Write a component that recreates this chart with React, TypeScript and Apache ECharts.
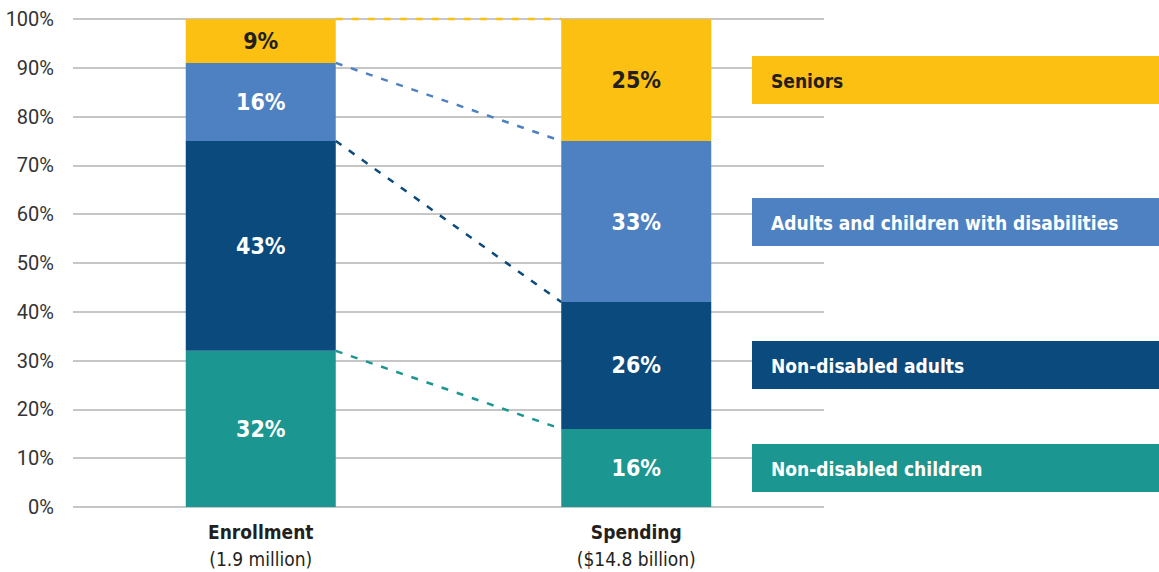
import React, { useEffect, useRef } from "react";
import * as echarts from "echarts";

const categories = ["Enrollment", "Spending"];
const subLabels = ["(1.9 million)", "($14.8 billion)"];
const seriesNames = [
  "Non-disabled children",
  "Non-disabled adults",
  "Adults and children with disabilities",
  "Seniors",
];
const children = [32, 16];
const adults = [43, 26];
const disabled = [16, 33];
const seniors = [9, 25];
const colors = ["#1C9690", "#0B4A7D", "#4E81C1", "#FBC012"];
const yTicks = [0, 10, 20, 30, 40, 50, 60, 70, 80, 90, 100];

const FONT = "'DejaVu Sans Condensed', 'Liberation Sans Narrow', 'Roboto', sans-serif";
const AXIS_FONT = "'Roboto', 'Liberation Sans', sans-serif";

export default function App() {
  const ref = useRef<HTMLDivElement>(null);
  useEffect(() => {
    if (!ref.current) return;
    const chart = echarts.init(ref.current, undefined, { renderer: "svg" });
    const values = [children, adults, disabled, seniors];
    const tops = values.map((_, i) =>
      [0, 1].map((c) => values.slice(0, i + 1).reduce((s, arr) => s + arr[c], 0))
    );
    const connectors = tops.map((t, i) => [t[0], t[1], i]);

    const barSeries = values.map((arr, i) => ({
      name: seriesNames[i],
      type: "bar",
      stack: "total",
      barWidth: 150,
      data: arr,
      itemStyle: { color: colors[i] },
      label: {
        show: true,
        position: "inside",
        formatter: "{c}%",
        fontFamily: FONT,
        fontWeight: "bold",
        fontSize: 23,
        color: i === 3 ? "#231F20" : "#FFFFFF",
      },
      z: 2,
    }));

    // legend boxes centred on the middle of each Spending segment
    const legendOrder = [3, 2, 1, 0];
    const spendMid = legendOrder.map((si) => {
      const below = values.slice(0, si).reduce((s, arr) => s + arr[1], 0);
      return below + values[si][1] / 2;
    });

    chart.setOption({
      animation: false,
      grid: { left: 73, right: 335, top: 19, bottom: 65 },
      xAxis: {
        type: "category",
        data: categories,
        axisLine: { show: false },
        axisTick: { show: false },
        axisLabel: {
          margin: 11,
          formatter: (v: string, idx: number) => `{b|${v}}\n{n|${subLabels[idx]}}`,
          rich: {
            b: { fontFamily: FONT, fontWeight: "bold", fontSize: 19, color: "#231F20", lineHeight: 27 },
            n: { fontFamily: FONT, fontSize: 19, color: "#231F20", lineHeight: 27 },
          },
        },
      },
      yAxis: {
        type: "value",
        min: 0,
        max: 100,
        interval: 10,
        axisLine: { show: false },
        axisTick: { show: false },
        axisLabel: {
          formatter: "{value}%",
          fontFamily: AXIS_FONT,
          fontSize: 20,
          color: "#333333",
          margin: 19,
        },
        splitLine: { lineStyle: { color: "#B3B3B3", width: 1.5 } },
      },
      series: [
        ...barSeries,
        {
          type: "custom",
          data: connectors,
          z: 3,
          renderItem: (params: any, api: any) => {
            const p0 = api.coord([0, api.value(0)]);
            const p1 = api.coord([1, api.value(1)]);
            const ci = api.value(2);
            return {
              type: "line",
              shape: { x1: p0[0] + 75, y1: p0[1], x2: p1[0] - 75, y2: p1[1] },
              style: { stroke: colors[ci], lineWidth: 2.5, lineDash: [7, 9] },
            };
          },
        },
      ],
      graphic: legendOrder.map((si, k) => {
        const yMid = 507 - spendMid[k] * 4.88;
        return {
          type: "group",
          x: 752,
          y: Math.round(yMid - 24),
          z: 100,
          children: [
            { type: "rect", z: 100, shape: { x: 0, y: 0, width: 420, height: 48 }, style: { fill: colors[si] } },
            {
              type: "text",
              z: 101,
              x: 19,
              y: 25,
              style: {
                text: seriesNames[si],
                fontFamily: FONT,
                fontWeight: "bold",
                fontSize: 19,
                fill: si === 3 ? "#231F20" : "#FFFFFF",
                verticalAlign: "middle",
              },
            },
          ],
        };
      }),
    });
    return () => chart.dispose();
  }, []);
  return (
    <div
      ref={ref}
      style={{ position: "absolute", left: 0, top: 0, width: 1159, height: 572, background: "#fff" }}
    />
  );
}
